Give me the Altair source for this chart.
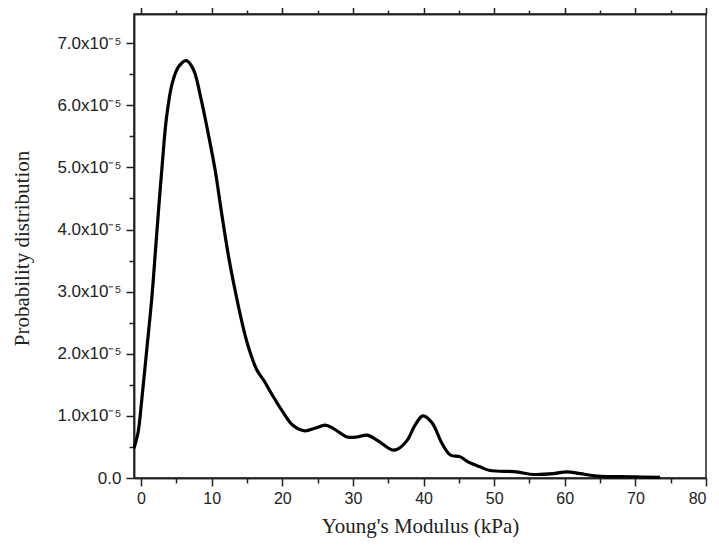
import altair as alt
import pandas as pd

# Young's modulus (kPa)
modulus = [-1.0, -0.4, 0.1, 0.8, 1.5, 2.0, 2.5, 3.0, 3.6, 4.4, 5.3, 6.4, 7.4, 8.5,
           9.5, 10.5, 11.4, 12.4, 13.3, 14.3, 15.2, 16.4, 17.5, 18.3, 20.1, 21.5,
           23.2, 24.6, 26.1, 27.2, 29.2, 30.6, 32.0, 33.4, 35.6, 36.4, 37.7, 38.8,
           39.9, 41.2, 42.6, 43.8, 45.2, 46.3, 48.0, 49.4, 53.2, 55.1, 58.4, 60.3,
           62.2, 64.6, 69.7, 73.5]
# probability distribution, in units of 1e-5
prob_e5 = [0.48, 0.75, 1.26, 2.06, 2.87, 3.6, 4.35, 5.05, 5.8, 6.35, 6.62, 6.72, 6.58, 6.1,
           5.55, 4.95, 4.27, 3.56, 3.03, 2.50, 2.11, 1.74, 1.55, 1.39, 1.06, 0.85,
           0.76, 0.80, 0.85, 0.80, 0.66, 0.66, 0.69, 0.61, 0.45, 0.47, 0.61, 0.85,
           1.00, 0.89, 0.56, 0.37, 0.34, 0.26, 0.18, 0.12, 0.10, 0.06, 0.07, 0.10,
           0.07, 0.03, 0.02, 0.01]

x_major = [0, 10, 20, 30, 40, 50, 60, 70, 80]
x_minor = [5, 15, 25, 35, 45, 55, 65, 75]
y_major = [0, 1e-5, 2e-5, 3e-5, 4e-5, 5e-5, 6e-5, 7e-5]
y_minor = [0.5e-5, 1.5e-5, 2.5e-5, 3.5e-5, 4.5e-5, 5.5e-5, 6.5e-5]

df = pd.DataFrame({"x": modulus, "y": [v * 1e-5 for v in prob_e5]})

xscale = alt.Scale(domain=[-1, 80], nice=False, zero=False)
yscale = alt.Scale(domain=[0, 7.47e-5], nice=False)

AX = dict(domainColor="#222", domainWidth=1.5, tickColor="#222", tickWidth=1.5, grid=False)

line = alt.Chart(df).mark_line(color="black", strokeWidth=3.2, interpolate="catmull-rom").encode(
    x=alt.X("x:Q", scale=xscale,
            axis=alt.Axis(orient="bottom", values=x_major, tickSize=8, labelPadding=4,
                          labelFont="Liberation Sans", labelFontSize=16, labelColor="#222",
                          title="Young's Modulus (kPa)", titleFont="Liberation Serif",
                          titleFontSize=21, titleFontWeight="normal", titleColor="#222",
                          titlePadding=9, **AX)),
    y=alt.Y("y:Q", scale=yscale,
            axis=alt.Axis(orient="left", values=y_major, tickSize=8, labelPadding=5,
                          labelFont="Liberation Sans", labelFontSize=17, labelColor="#222",
                          labelExpr="datum.value < 1e-9 ? '0.0' : format(datum.value*1e5, '.1f') + 'x10⁻⁵'",
                          title="Probability distribution", titleFont="Liberation Serif",
                          titleFontSize=21, titleFontWeight="normal", titleColor="#222",
                          titleAngle=270, titleX=-112, titleY=234, titleAlign="center",
                          titleBaseline="middle", **AX)),
)

def ghost(xaxis, yaxis):
    return alt.Chart(df).mark_point(opacity=0).encode(
        x=alt.X("x:Q", scale=xscale, axis=xaxis),
        y=alt.Y("y:Q", scale=yscale, axis=yaxis),
    )

minor_bl = ghost(
    alt.Axis(orient="bottom", values=x_minor, tickSize=5, labels=False, title=None, **AX),
    alt.Axis(orient="left", values=y_minor, tickSize=5, labels=False, title=None, **AX),
)
top_major = ghost(
    alt.Axis(orient="top", values=x_major, tickSize=7, labels=False, title=None, **AX),
    None,
)
top_minor = ghost(
    alt.Axis(orient="top", values=x_minor, tickSize=4, labels=False, title=None, **AX),
    None,
)

chart = alt.layer(line, minor_bl, top_major, top_minor).resolve_axis(
    x="independent", y="independent"
).properties(
    width=572, height=464, autosize="none",
    padding={"left": 126, "top": 6, "right": 5, "bottom": 60},
    background="white",
).configure_view(stroke="#222", strokeWidth=1.5)

chart.save("out.html", embed_options={"renderer": "svg", "actions": False})
